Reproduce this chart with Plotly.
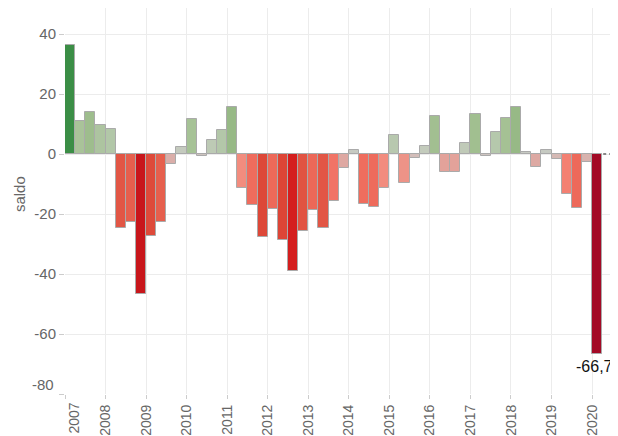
import plotly.graph_objects as go

# ---- data ----
start_year = 2007
saldo = [36.5, 11.0, 14.0, 9.8,
         8.2, -24.7, -22.5, -46.8,
         -27.3, -22.5, -3.4, 2.2,
         11.6, -0.5, 4.6, 8.0,
         15.8, -11.2, -17.0, -27.7,
         -18.3, -28.6, -39.1, -25.5,
         -18.7, -24.7, -15.5, -4.6,
         1.2, -16.8, -17.5, -11.2,
         6.4, -9.6, -1.2, 2.6,
         12.8, -6.0, -6.0, 3.8,
         13.2, -0.5, 7.3, 12.0,
         15.8, 0.8, -4.3, 1.2,
         -1.8, -13.4, -18.1, -2.7,
         -66.7]
year_ticks = list(range(2007, 2021))
y_ticks = [-80, -60, -40, -20, 0, 20, 40]
y_title = "saldo"

# ---- styles ----
FONT = "Liberation Sans, Arial, sans-serif"
TICK_COLOR = "#666666"
GRID = "#ececec"

stops = [(-66.7, "#a30a26"), (-47, "#c8161b"), (-39, "#d41e1e"), (-28, "#dd4737"),
         (-23, "#e55e4c"), (-17, "#ef6c5d"), (-12, "#f4887a"), (-8, "#e99a8f"),
         (-4, "#dcaaa5"), (-1, "#d2beba"), (0, "#c9c9c6"), (3, "#c2cbbb"),
         (8, "#b3c7a9"), (12, "#a5c194"), (16, "#96b985"), (36.5, "#3b8e46")]
vmin, vmax = stops[0][0], stops[-1][0]
colorscale = [[(v - vmin) / (vmax - vmin), c] for v, c in stops]

x_pos = [start_year + i / 4 + 0.125 for i in range(len(saldo))]

fig = go.Figure()
fig.add_trace(go.Bar(
    x=x_pos, y=saldo, width=0.25,
    marker=dict(color=saldo, colorscale=colorscale, cmin=vmin, cmax=vmax,
                line=dict(color="#aaaaaa", width=1)),
    showlegend=False, hoverinfo="x+y",
))
# dotted continuation at zero
x_end = 2020.64
fig.add_trace(go.Scatter(
    x=[x_pos[-1] + 0.15, x_end + 0.1], y=[0, 0], mode="lines",
    line=dict(color="#888888", width=2, dash="dot"), showlegend=False, hoverinfo="skip",
))

annotations = [
    dict(x=x_pos[-1], y=saldo[-1], xref="x", yref="y",
         text=f"{saldo[-1]:.1f}".replace(".", ","), showarrow=False,
         yanchor="top", xanchor="center", yshift=-2, xshift=-3,
         font=dict(family=FONT, size=16, color="#111111")),
    dict(x=0, y=y_ticks[0], xref="paper", yref="y", text=str(y_ticks[0]),
         showarrow=False, xanchor="right", yanchor="middle", xshift=-9, yshift=10,
         font=dict(family=FONT, size=15, color=TICK_COLOR)),
    dict(x=year_ticks[0], y=0, xref="x", yref="paper", text=str(year_ticks[0]),
         showarrow=False, textangle=-90, xanchor="center", yanchor="top",
         xshift=8, yshift=-7,
         font=dict(family=FONT, size=14, color=TICK_COLOR)),
    dict(x=0, y=0.518, xref="paper", yref="paper", text=y_title,
         showarrow=False, textangle=-90, xanchor="center", yanchor="middle",
         xshift=-46,
         font=dict(family=FONT, size=15, color=TICK_COLOR)),
]

# page body adds an 8px offset; figure sized to fit the 618x436 window
fig.update_layout(
    width=610, height=428,
    margin=dict(l=57, r=0, t=0, b=42, autoexpand=False),
    paper_bgcolor="white", plot_bgcolor="white",
    font=dict(family=FONT, color=TICK_COLOR),
    bargap=0,
    annotations=annotations,
    xaxis=dict(range=[start_year, x_end], tickmode="array", tickvals=year_ticks,
               ticktext=[""] + [str(y) for y in year_ticks[1:]],
               tickangle=-90, tickfont=dict(family=FONT, size=14, color=TICK_COLOR),
               showgrid=True, gridcolor=GRID, gridwidth=1, zeroline=False,
               showline=False, ticks="outside", ticklen=4, tickcolor="#cccccc",
               automargin=False),
    yaxis=dict(range=[-80, 48.7], tickmode="array", tickvals=y_ticks,
               ticktext=[""] + [str(v) for v in y_ticks[1:]],
               tickfont=dict(family=FONT, size=15, color=TICK_COLOR),
               showgrid=True, gridcolor=GRID, gridwidth=1, zeroline=False,
               showline=False, ticks="outside", ticklen=5, tickcolor="#cccccc",
               automargin=False),
)

fig.write_html("out.html")
